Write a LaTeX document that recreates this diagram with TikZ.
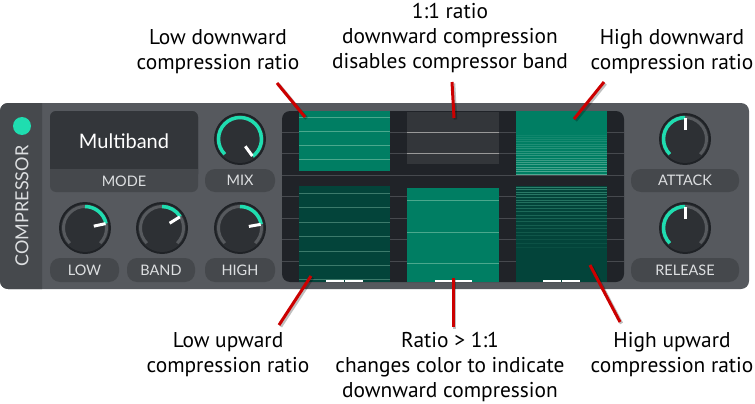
\documentclass[tikz,border=0pt]{standalone}
\usepackage{fontspec}
\setmainfont{PT Sans}
\newfontfamily\uifont{Lato}
\usepackage{tikz}
\usetikzlibrary{positioning}

\definecolor{panelgray}{HTML}{56595E}
\definecolor{stripgray}{HTML}{46494D}
\definecolor{pillgray}{HTML}{45484C}
\definecolor{screengray}{HTML}{33363A}
\definecolor{knobface}{HTML}{2D3034}
\definecolor{knobrim}{HTML}{1F2226}
\definecolor{trackgray}{HTML}{575A5E}
\definecolor{tealon}{HTML}{1FDDB0}
\definecolor{uitext}{HTML}{DDDFE1}
\definecolor{displaybg}{HTML}{202328}
\definecolor{gridgray}{HTML}{46494E}
\definecolor{bandgreen}{HTML}{007E63}
\definecolor{darkgreen}{HTML}{03443A}
\definecolor{greenline}{HTML}{4AA88D}
\definecolor{dimline}{HTML}{3C7A6B}
\definecolor{calloutred}{HTML}{CC0000}

\tikzset{
  note/.style={font=\fontsize{21.4}{25}\selectfont, align=center, inner sep=0pt, anchor=base},
  pill/.style={fill=pillgray, rounded corners=10pt, inner sep=0pt, minimum height=23,
    text=uitext, font=\uifont\fontsize{14.5}{14.5}\selectfont},
  callout/.style={draw=calloutred, line width=3},
  callshadow/.style={draw=black, opacity=0.25, line width=3.5},
}

\begin{document}
\begin{tikzpicture}[x=1pt,y=-1pt]

  \useasboundingbox (0,0) rectangle (755,404);

  % panel
  \fill[panelgray, rounded corners=8] (0,103) rectangle (749,289);
  \fill[stripgray, rounded corners=8] (42,103) -- (0,103) -- (0,289) -- (42,289);
  \fill[tealon] (22,126) circle (9);
  \node[rotate=90, text=uitext, font=\uifont\fontsize{18}{18}\selectfont, inner sep=0pt] (title) at (22,206) {COMPRESSOR};

  % mode box
  \fill[pillgray, rounded corners=6] (50,111) rectangle (198,192);
  \fill[screengray, rounded corners=6] (50,111) rectangle (198,180);
  \fill[pillgray] (50,169) rectangle (198,181);
  \node[text=white, font=\uifont\fontsize{20}{20}\selectfont, inner sep=0pt] (mode) at (124,141) {Multiband};
  \node[text=uitext, font=\uifont\fontsize{14.5}{14.5}\selectfont, inner sep=0pt] (modelabel) at (124,181) {MODE};

  % knobs: x/y/teal start/teal end (angles with y pointing down)
  \foreach \cx/\cy/\from/\to in {240/139/-225/54, 85/228/-90/-12, 162/228/-90/-32,
                                 240/228/-90/-10, 685/139/-225/-90, 685/228/-225/-90}{
    \fill[knobrim] (\cx,\cy) circle (26);
    \fill[knobface] (\cx,\cy) circle (24);
    \draw[trackgray, line width=3] ([shift={(-225:21.5)}]\cx,\cy) arc (-225:45:21.5);
    \draw[tealon, line width=3.5] ([shift={(\from:21.5)}]\cx,\cy) arc (\from:\to:21.5);
    \draw[white, line width=3] ([shift={(\to:9)}]\cx,\cy) -- ([shift={(\to:21)}]\cx,\cy);
  }

  \node[pill, minimum width=70] (mix) at (240,180.5) {MIX};
  \node[pill, minimum width=69, minimum height=24] (low) at (84.5,270) {LOW};
  \node[pill, minimum width=68, minimum height=24] (band) at (161,270) {BAND};
  \node[pill, minimum width=70, minimum height=24] (high) at (240,270) {HIGH};
  \node[pill, minimum width=108] (attack) at (685,180.5) {ATTACK};
  \node[pill, minimum width=108, minimum height=24] (release) at (685,270) {RELEASE};

  % display
  \fill[displaybg, rounded corners=8] (282,111) rectangle (624,282);
  \foreach \y in {132,153.5,175,196.5,218,239.5,261}
    \draw[gridgray, line width=0.8] (282,\y) -- (624,\y);

  % top row
  \fill[bandgreen] (299,111) rectangle (390,171);
  \foreach \y in {117,131,145,159}
    \draw[greenline, line width=1] (299,\y) -- (390,\y);
  \fill[screengray] (407,112) rectangle (499,164);
  \foreach \y in {132,153}
    \draw[gray!80, line width=1] (407,\y) -- (499,\y);
  \fill[bandgreen] (516,111) rectangle (607,175);
  \foreach \i in {0,...,17}
    \draw[greenline!70!white, line width=0.9, opacity=0.12+0.03*\i] (516,135+2.3*\i) -- (607,135+2.3*\i);

  % bottom row
  \fill[darkgreen] (299,186) rectangle (390,282);
  \foreach \y in {193,207,222,236,251,265,279}
    \draw[dimline, line width=1] (299,\y) -- (390,\y);
  \fill[bandgreen] (407,188) rectangle (499,282);
  \foreach \y in {200,232,263}
    \draw[greenline, line width=1] (407,\y) -- (499,\y);
  \fill[darkgreen] (516,186) rectangle (607,282);
  \foreach \i in {0,...,19}
    \draw[greenline, line width=0.9, opacity=0.6-0.026*\i] (516,187+2.4*\i+0.04*\i*\i) -- (607,187+2.4*\i+0.04*\i*\i);

  \draw[white, line width=1.5] (326,281) -- (344,281) (345,281) -- (363,281);
  \draw[white, line width=1.5] (435,281) -- (472,281);
  \draw[white, line width=1.5] (543,281) -- (561,281) (562,281) -- (580,281);

  % labels (base = last line)
  \node[note] (lowdown) at (218,70) {Low downward\\compression ratio};
  \node[note] (unity) at (450,69) {1:1 ratio\\downward compression\\disables compressor band};
  \node[note] (highdown) at (672,70) {High downward\\compression ratio};
  \node[note] (lowup) at (228,372) {Low upward\\compression ratio};
  \node[note] (ratio) at (450,397) {Ratio > 1:1\\changes color to indicate\\downward compression};
  \node[note] (highup) at (672,372) {High upward\\compression ratio};

  \coordinate (lowdown from) at (277,83);   \coordinate (lowdown to) at (305,117);
  \coordinate (unity from) at (452,82);     \coordinate (unity to) at (454,118);
  \coordinate (highdown from) at (604,82);  \coordinate (highdown to) at (574,119);
  \coordinate (lowup from) at (279,325);    \coordinate (lowup to) at (311,276);
  \coordinate (ratio from) at (453,327);    \coordinate (ratio to) at (453,278);
  \coordinate (highup from) at (620,322);   \coordinate (highup to) at (590,265);

  \foreach \c in {lowdown,unity,highdown,lowup,ratio,highup}{
    \draw[callshadow] ([shift={(1.5,1.5)}]\c\space from) -- ([shift={(1.5,1.5)}]\c\space to);
    \draw[callout] (\c\space from) -- (\c\space to);
  }

\end{tikzpicture}
\end{document}
